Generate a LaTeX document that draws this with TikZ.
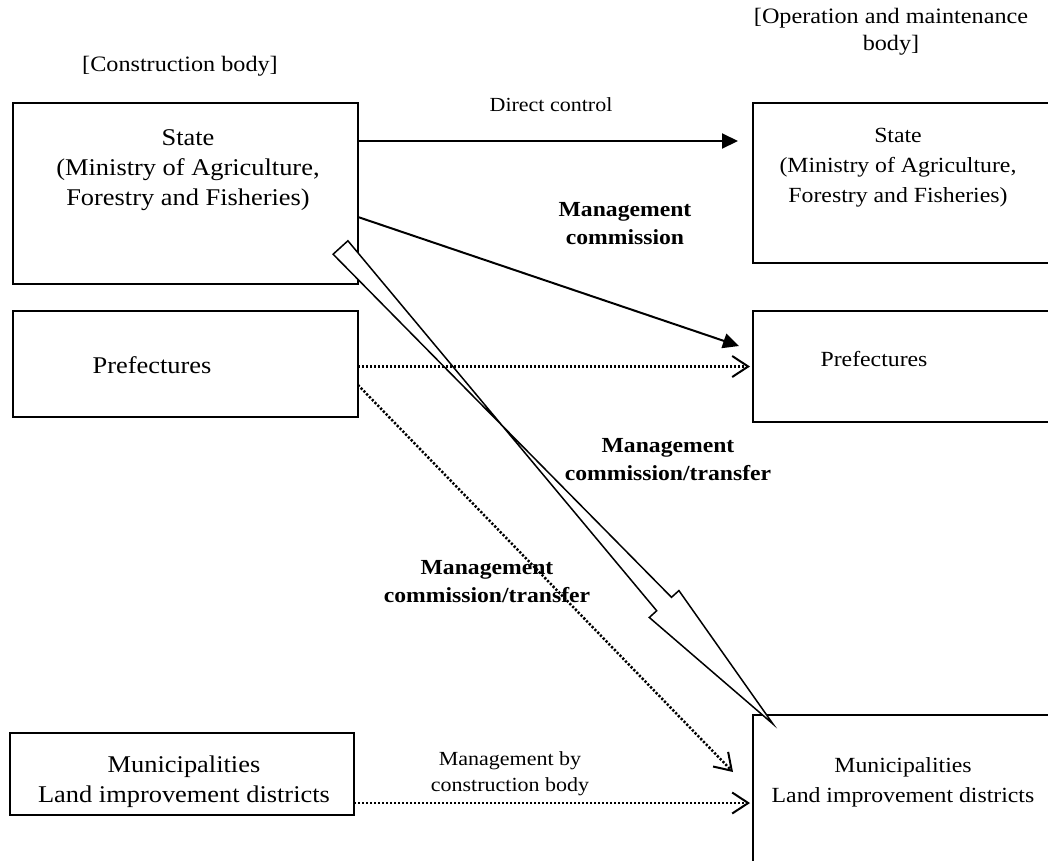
\documentclass[tikz,border=0pt]{standalone}
\usepackage{fontspec}
\setmainfont{Liberation Serif}[FakeStretch=1.1]
\usetikzlibrary{arrows.meta,calc}
\begin{document}
\begin{tikzpicture}[x=1pt,y=-1pt,
  box/.style={draw,line width=2pt,outer sep=0pt,inner sep=0pt},
  txtL/.style={align=center,font=\fontsize{24}{30}\selectfont,inner sep=0pt},
  txtR/.style={align=center,font=\fontsize{21.6}{30}\selectfont,inner sep=0pt},
  hdr/.style={align=center,font=\fontsize{22}{27}\selectfont,inner sep=0pt},
  lbl/.style={align=center,font=\fontsize{20}{26}\selectfont,inner sep=0pt},
  blbl/.style={align=center,font=\bfseries\fontsize{21.5}{28}\selectfont,inner sep=0pt},
  solidarrow/.style={line width=2pt,-{Triangle[length=16pt,width=15pt]}},
  dotarrow/.style={line width=2.5pt,dash pattern=on 2.2pt off 1.8pt,-{Straight Barb[length=16pt,width=21pt,line width=2pt]}},
  hollow/.style={draw,line width=1.5pt,line join=miter,fill=white}]
\useasboundingbox (0,0) rectangle (1048,860);
% boxes
\node[box,minimum width=345pt,minimum height=181pt] (ls) at (185.5,193.5) {};
\node[box,minimum width=307pt,minimum height=160pt] (rs) at (906.5,183) {};
\node[box,minimum width=345pt,minimum height=106pt] (lp) at (185.5,364) {};
\node[box,minimum width=307pt,minimum height=111pt] (rp) at (906.5,366.5) {};
\node[box,minimum width=344pt,minimum height=82pt] (lm) at (182,774) {};
\node[box,minimum width=307pt,minimum height=155pt] (rm) at (906.5,792.5) {};
% box texts
\node[txtL] (lst) at (188,170) {State\\(Ministry of Agriculture,\\Forestry and Fisheries)};
\node[txtR] (rst) at (898,168) {State\\(Ministry of Agriculture,\\Forestry and Fisheries)};
\node[txtL] (lpt) at (152,365) {Prefectures};
\node[txtR] (rpt) at (874,359) {Prefectures};
\node[txtL] (lmt) at (184,782) {Municipalities\\Land improvement districts};
\node[txtR] (rmt) at (903,782) {Municipalities\\Land improvement districts};
% headers
\node[hdr] (hl) at (180,66) {[Construction body]};
\node[hdr] (hr) at (891,32) {[Operation and maintenance\\body]};
% labels
\node[lbl] (dc) at (551,105) {Direct control};
\node[blbl] (mc) at (625,224) {Management\\commission};
\node[blbl] (mt1) at (668,460) {Management\\commission/transfer};
\node[blbl] (mt2) at (487,582) {Management\\commission/transfer};
\node[lbl] (mb) at (510,774) {Management by\\construction body};
% hollow arrow
\coordinate (hb) at ($(ls.south east)+(-17.5,-36.5)$);
\coordinate (ht) at ($(rm.north west)+(20,9)$);
\coordinate (hh) at ($(hb)!481.5pt!(ht)$);
\path[hollow] ($(hb)!10pt!90:(ht)$) -- ($(hh)!10pt!-90:(ht)$) -- ($(hh)!20pt!-90:(ht)$)
  -- (ht) -- ($(hh)!20pt!90:(ht)$) -- ($(hh)!10pt!90:(ht)$) -- ($(hb)!10pt!-90:(ht)$) -- cycle;
% arrows
\coordinate (lmo) at ([yshift=-70pt]lm.north east);
\draw[solidarrow,shorten >=15pt] ([yshift=-38pt]ls.north east) -- ([yshift=-38pt]rs.north west);
\draw[solidarrow] ([yshift=-114pt]ls.north east) -- ([xshift=-14pt,yshift=-35pt]rp.north west);
\draw[dotarrow,shorten >=3pt] (lp.east |- rp.west) -- (rp.west);
\draw[dotarrow] ([yshift=-74pt]lp.north east) -- ([xshift=-20pt,yshift=-57pt]rm.north west);
\draw[dotarrow,shorten >=3pt] (lmo) -- (rm.west |- lmo);
\end{tikzpicture}
\end{document}
